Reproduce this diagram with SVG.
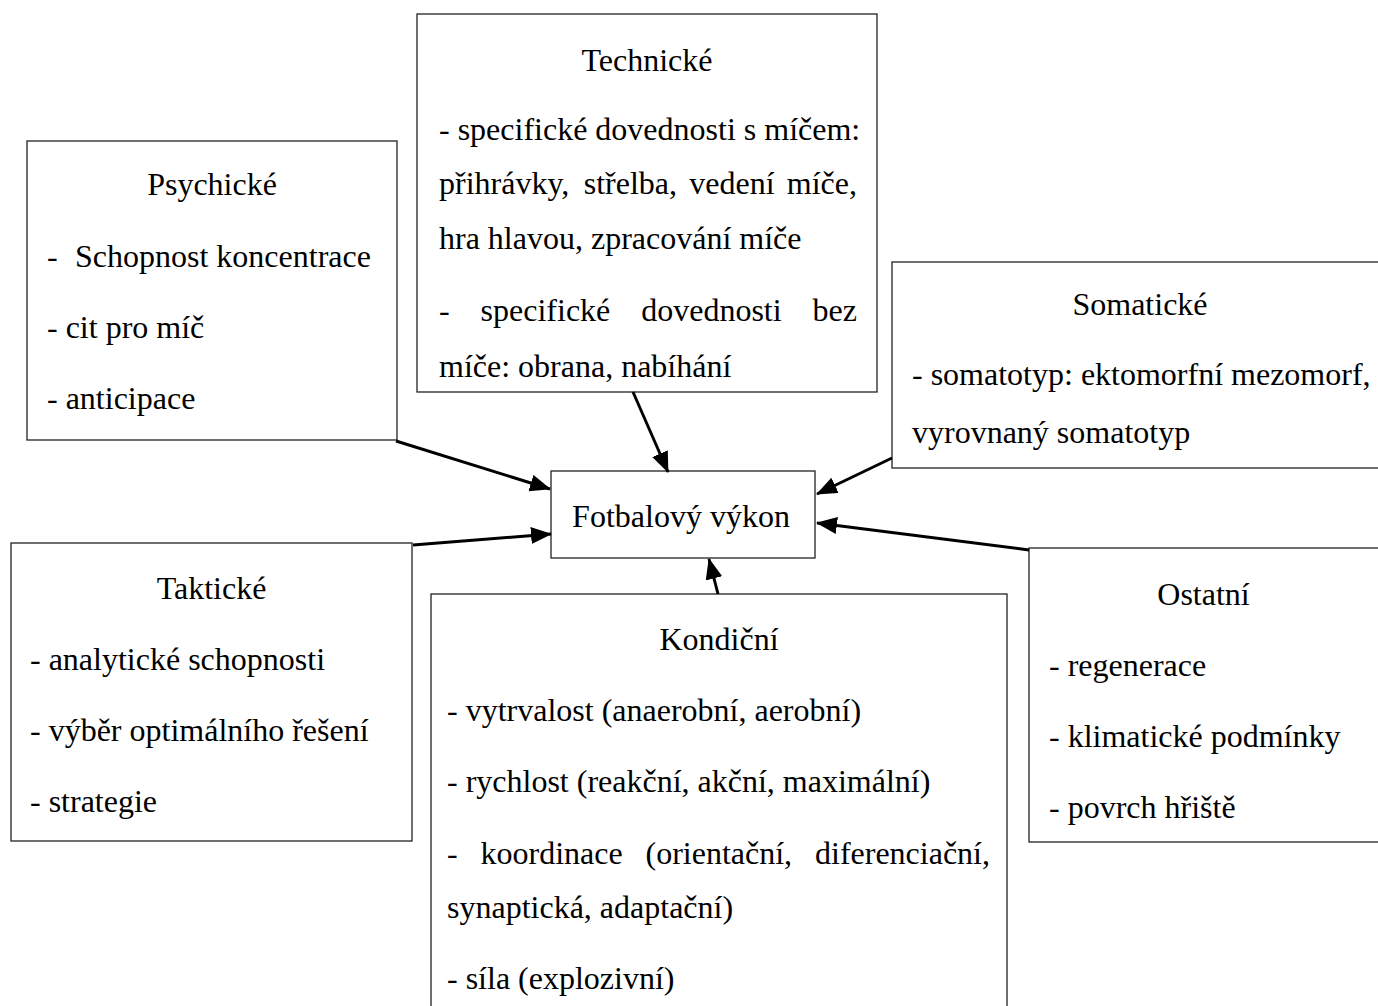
<svg xmlns="http://www.w3.org/2000/svg" width="1378" height="1006" viewBox="0 0 1378 1006">
<style>
.box{fill:#fff;stroke:#222;stroke-width:1.3}
.t{font-family:"Liberation Serif","Times New Roman",serif;font-size:32px;fill:#000}
.c{text-anchor:middle}
.e{text-anchor:end}
.arr{stroke:#000;stroke-width:3;fill:none;marker-end:url(#ah)}
</style>
<defs>
<marker id="ah" markerUnits="userSpaceOnUse" markerWidth="22" markerHeight="18" refX="20" refY="8.5" orient="auto">
<path d="M0,0 L21,8.5 L0,17 z" fill="#000"/>
</marker>
</defs>
<rect width="1378" height="1006" fill="#fff"/>

<g id="technicke">
<rect class="box" x="417" y="14" width="460" height="378"/>
<text class="t c" x="647" y="71">Technické</text>
<text class="t" x="439" y="140">- specifické dovednosti s míčem:</text>
<text class="t" y="194"><tspan x="439">přihrávky,</tspan><tspan x="583.7">střelba,</tspan><tspan x="689.3">vedení</tspan><tspan x="857" text-anchor="end">míče,</tspan></text>
<text class="t" x="439" y="249">hra hlavou, zpracování míče</text>
<text class="t" y="321"><tspan x="439">-</tspan><tspan x="480.6">specifické</tspan><tspan x="641.2">dovednosti</tspan><tspan x="857" text-anchor="end">bez</tspan></text>
<text class="t" x="439" y="377">míče: obrana, nabíhání</text>
</g>

<g id="psychicke">
<rect class="box" x="27" y="141" width="370" height="299"/>
<text class="t c" x="212" y="195">Psychické</text>
<text class="t" y="267"><tspan x="47">-</tspan><tspan x="75">Schopnost koncentrace</tspan></text>
<text class="t" x="47" y="338">- cit pro míč</text>
<text class="t" x="47" y="409">- anticipace</text>
</g>

<g id="somaticke">
<rect class="box" x="892" y="262" width="496" height="206"/>
<text class="t c" x="1140" y="315">Somatické</text>
<text class="t" x="912" y="385">- somatotyp: ektomorfní mezomorf,</text>
<text class="t" x="912" y="443">vyrovnaný somatotyp</text>
</g>

<g id="fotbalovy-vykon">
<rect class="box" x="551" y="471" width="264" height="87"/>
<text class="t c" x="681" y="527">Fotbalový výkon</text>
</g>

<g id="takticke">
<rect class="box" x="11" y="543" width="401" height="298"/>
<text class="t c" x="211.5" y="599">Taktické</text>
<text class="t" x="30" y="670">- analytické schopnosti</text>
<text class="t" x="30" y="741">- výběr optimálního řešení</text>
<text class="t" x="30" y="812">- strategie</text>
</g>

<g id="ostatni">
<rect class="box" x="1029" y="548" width="360" height="294"/>
<text class="t c" x="1203.5" y="605">Ostatní</text>
<text class="t" x="1049" y="676">- regenerace</text>
<text class="t" x="1049" y="747">- klimatické podmínky</text>
<text class="t" x="1049" y="818">- povrch hřiště</text>
</g>

<g id="kondicni">
<rect class="box" x="431" y="594" width="576" height="430"/>
<text class="t c" x="719" y="650">Kondiční</text>
<text class="t" x="447" y="721">- vytrvalost (anaerobní, aerobní)</text>
<text class="t" x="447" y="792">- rychlost (reakční, akční, maximální)</text>
<text class="t" y="864"><tspan x="447">-</tspan><tspan x="480.5">koordinace</tspan><tspan x="645.5">(orientační,</tspan><tspan x="990" text-anchor="end">diferenciační,</tspan></text>
<text class="t" x="447" y="918">synaptická, adaptační)</text>
<text class="t" x="447" y="989">- síla (explozivní)</text>
</g>

<g id="connectors">
<line class="arr" x1="396" y1="441" x2="550" y2="489"/>
<line class="arr" x1="633" y1="392" x2="668" y2="472"/>
<line class="arr" x1="892" y1="458" x2="817" y2="494"/>
<line class="arr" x1="413" y1="545" x2="551" y2="534"/>
<line class="arr" x1="1029" y1="550" x2="817" y2="523"/>
<line class="arr" x1="718" y1="594" x2="709" y2="559"/>
</g>
</svg>
